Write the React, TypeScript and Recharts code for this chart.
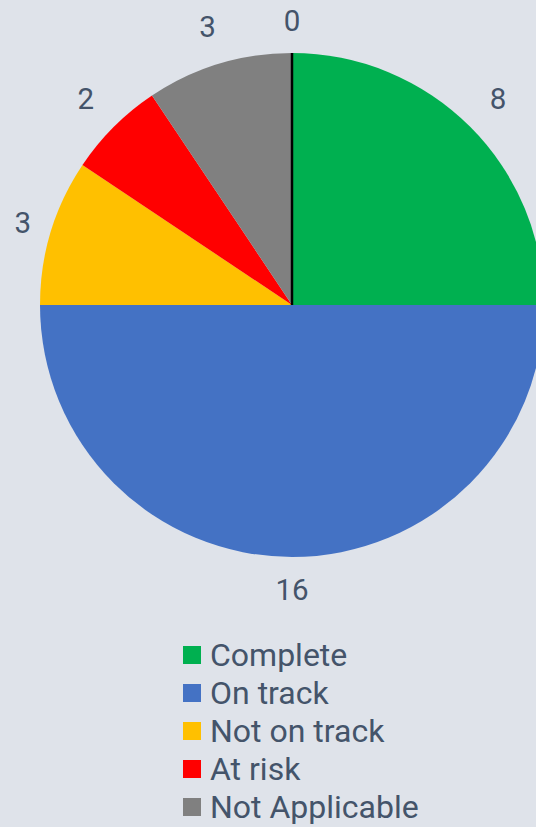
import React from 'react';
import { Cell, Legend, Pie, PieChart } from 'recharts';

const categories = ['Complete', 'On track', 'Not on track', 'At risk', 'Not Applicable', ''];
const values = [8, 16, 3, 2, 3, 0];
const colors = ['#00B050', '#4472C4', '#FFC000', '#FF0000', '#808080', '#000000'];

const data = categories.map((name, i) => ({ name, value: values[i] }));

const TEXT = '#44546A';
const RADIAN = Math.PI / 180;

// outside labels, pushed a little further out on the diagonals
const renderLabel = (props: any) => {
  const { cx, cy, midAngle, outerRadius, value, index } = props;
  const t = (90 - midAngle) * RADIAN;
  const off = 32.5 + 12.5 * Math.abs(Math.sin(2 * t)) - 11 * Math.sin(t) ** 2;
  const r = outerRadius + off;
  const x = cx + r * Math.cos(-midAngle * RADIAN);
  const y = cy + r * Math.sin(-midAngle * RADIAN);
  const ex = cx + outerRadius * Math.cos(-midAngle * RADIAN);
  const ey = cy + outerRadius * Math.sin(-midAngle * RADIAN);
  return (
    <g key={`lbl-${index}`}>
      {value === 0 && <line x1={cx} y1={cy} x2={ex} y2={ey} stroke="#000000" strokeWidth={2.5} />}
      <text x={x} y={y} fill={TEXT} fontSize={29.5} textAnchor="middle" dominantBaseline="central">
        {value}
      </text>
    </g>
  );
};

const renderLegend = () => (
  <div style={{ display: 'flex', flexDirection: 'column' }}>
    {categories.map((name, i) =>
      name ? (
        <div key={name} style={{ display: 'flex', alignItems: 'center', height: 38 }}>
          <span style={{ width: 18, height: 18, background: colors[i], marginRight: 9, flexShrink: 0 }} />
          <span style={{ fontSize: 32, lineHeight: '38px', color: TEXT, whiteSpace: 'nowrap' }}>{name}</span>
        </div>
      ) : null,
    )}
  </div>
);

const App = () => {
  return (
    <div
      style={{
        position: 'fixed',
        top: 0,
        left: 0,
        width: 536,
        height: 827,
        background: '#DFE3EA',
        fontFamily: 'Roboto, sans-serif',
        overflow: 'hidden',
      }}
    >
      <PieChart width={536} height={827} margin={{ top: 0, right: 0, bottom: 0, left: 0 }}>
        <Pie
          data={data}
          dataKey="value"
          nameKey="name"
          cx={292}
          cy={305}
          outerRadius={252}
          startAngle={90}
          endAngle={-270}
          label={renderLabel}
          labelLine={false}
          stroke="none"
          isAnimationActive={false}
        >
          {data.map((d, i) => (
            <Cell key={i} fill={colors[i]} />
          ))}
        </Pie>
        <Legend
          content={renderLegend}
          layout="vertical"
          wrapperStyle={{ position: 'absolute', top: 636, left: 183, width: 340 }}
        />
      </PieChart>
    </div>
  );
};

export default App;
